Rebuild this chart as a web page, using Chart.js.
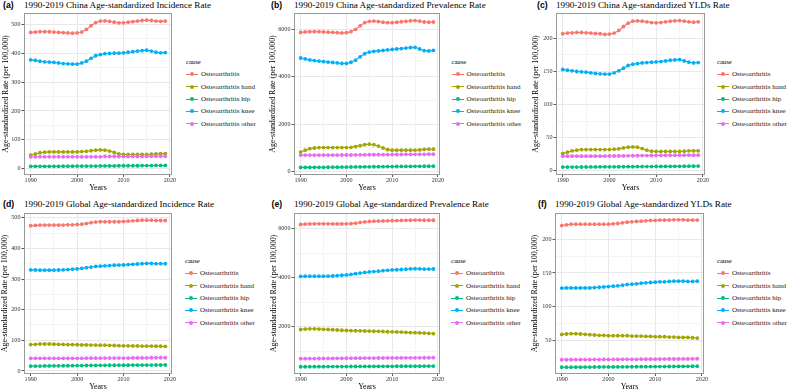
<!DOCTYPE html>
<html>
<head>
<meta charset="utf-8">
<script src="https://cdn.jsdelivr.net/npm/chart.js@4.4.1/dist/chart.umd.min.js"></script>
<style>
  body { margin: 0; background: #fff; width: 788px; height: 391px; overflow: hidden; position: relative; font-family: "Liberation Serif", "Times New Roman", serif; }
  .abs { position: absolute; white-space: nowrap; }
  .tag { font-family: "Liberation Sans", Arial, sans-serif; font-weight: bold; color: #000; height: 12px; line-height: 12px; }
  .title { color: #000; height: 12px; line-height: 12px; }
  .cause { color: #000; height: 10px; line-height: 10px; }
  .item { color: #1a1a1a; height: 10px; line-height: 10px; }
  .key { position: absolute; width: 12px; height: 10px; }
  .key .ln { position: absolute; left: 0; right: 0; top: 4.5px; height: 1px; }
  .key .dt { position: absolute; left: 4px; top: 3px; width: 4px; height: 4px; border-radius: 50%; }
</style>
</head>
<body>
<script>
// ---- data ----
const years = [1990,1991,1992,1993,1994,1995,1996,1997,1998,1999,2000,2001,2002,2003,2004,2005,2006,2007,2008,2009,2010,2011,2012,2013,2014,2015,2016,2017,2018,2019];
const causes = ["Osteoarthritis", "Osteoarthritis hand", "Osteoarthritis hip", "Osteoarthritis knee", "Osteoarthritis other"];
const colors = ["#F8766D", "#A3A500", "#00BF7D", "#00B0F6", "#E76BF3"];

// (a) China incidence
const chinaIncOA    = [472,473,474,474,474,473,472,471,470,469,470,473,482,495,506,511,512,510,507,505,505,507,509,511,513,514,513,511,510,511];
const chinaIncHand  = [47,51,55,57,58,58,58,58,58,58,58,59,60,62,64,65,64,61,56,51,49,49,49,49,49,49,50,51,52,52];
const chinaIncHip   = [8,8,8,8,8,8,8,8.5,8.5,8.5,9,9,9,9,9,9.5,9.5,9.5,9.5,10,10,10,10,10,10.5,10.5,10.5,11,11,11];
const chinaIncKnee  = [377,375,372,370,369,368,366,364,363,362,362,366,372,382,391,395,398,399,400,400,401,403,405,407,409,410,407,403,401,402];
const chinaIncOther = [41,41,41,41,41,41,41,41,41,41,41,41,41,41,41,41,42,42,42,42,42,42,42,42,42,43,43,43,43,43];

// (b) China prevalence
const chinaPrevOA    = [5870,5890,5900,5900,5900,5890,5880,5870,5860,5850,5860,5900,6000,6150,6280,6340,6350,6330,6300,6280,6280,6300,6320,6340,6360,6370,6350,6310,6300,6310];
const chinaPrevHand  = [820,900,960,990,1010,1010,1010,1010,1010,1010,1010,1020,1050,1090,1130,1150,1130,1070,990,920,900,900,900,900,900,900,910,930,940,940];
const chinaPrevHip   = [170,170,170,172,174,176,178,180,182,184,186,188,190,192,194,196,198,200,202,204,206,208,210,212,214,216,218,220,220,222];
const chinaPrevKnee  = [4790,4750,4710,4680,4660,4640,4620,4600,4580,4560,4560,4610,4700,4840,4970,5040,5070,5090,5110,5130,5150,5170,5190,5210,5230,5240,5170,5100,5090,5110];
const chinaPrevOther = [690,690,690,690,690,690,690,690,690,695,695,695,700,700,700,705,705,710,710,710,715,715,715,720,720,725,725,725,730,730];

// (c) China YLDs
const chinaYldOA    = [207,208,208.5,209,209,208.5,208,207.5,207,206,206.5,208,212,218,223,226,226.5,226,225,224,223.5,224,225,226,226.5,227,226,225,224.5,225];
const chinaYldHand  = [26,28,30,31,32,32,32,32,32,32,32,32.5,33,34.5,35.5,36,35.5,33.5,31,29.5,29,29,29,29,29,29,29.5,30,30,30];
const chinaYldHip   = [5.5,5.5,5.5,5.5,5.6,5.6,5.7,5.7,5.8,5.8,5.9,5.9,6,6,6.1,6.1,6.2,6.2,6.3,6.3,6.4,6.4,6.5,6.5,6.6,6.6,6.7,6.8,6.9,7];
const chinaYldKnee  = [153,152,151,150,149.5,149,148,147,146.5,146,146,148,151,155,159,161,162,163,163.5,164,164.5,165,166,167,167.5,168,166,164,163,163.5];
const chinaYldOther = [22,22,22,22,22,22,22,22,22,22,22.2,22.2,22.3,22.4,22.5,22.6,22.7,22.8,22.9,23,23,23.1,23.2,23.3,23.3,23.4,23.4,23.5,23.5,23.5];

// (d) Global incidence
const globalIncOA    = [474,475,476,476,476,476,476,476,477,477,478,479,481,484,486,487,487,487,487,487,488,489,490,491,492,492,492,491,491,491];
const globalIncHand  = [86,87,88,88,88,87.5,87,86.5,86,86,85.5,85,85,84.5,84.5,84,84,83.5,83,82.5,82,82,81.5,81.5,81,81,81,80.5,80.5,80];
const globalIncHip   = [16,16,16,16.2,16.4,16.6,16.8,17,17,17.2,17.4,17.6,17.8,18,18,18.2,18.4,18.5,18.6,18.7,18.8,18.9,19,19,19,19.1,19.2,19.3,19.4,19.5];
const globalIncKnee  = [330,329.5,329,329,329,329,329.5,330,331,332,333,335,337,339,341,342,343,344,345,345.5,346,347,348,349,350,351,351,350,350,350];
const globalIncOther = [41,41,41,41,41,41,41,41,41,41,41,41,41.5,41.5,41.5,41.5,42,42,42,42,42,42,42.5,42.5,42.5,42.5,43,43,43,43];

// (e) Global prevalence
const globalPrevOA    = [6180,6195,6200,6205,6205,6205,6205,6200,6200,6200,6205,6210,6230,6260,6280,6300,6310,6315,6320,6325,6330,6335,6340,6345,6350,6355,6355,6350,6350,6350];
const globalPrevHand  = [1890,1910,1920,1920,1910,1900,1890,1880,1870,1860,1850,1845,1840,1835,1830,1825,1820,1815,1810,1800,1795,1790,1785,1775,1765,1760,1755,1745,1735,1720];
const globalPrevHip   = [370,371,372,373,374,375,376,377,378,379,380,381,382,383,384,385,386,387,388,389,390,391,392,393,394,395,396,397,398,400];
const globalPrevKnee  = [4060,4065,4065,4065,4065,4065,4070,4075,4090,4105,4120,4140,4170,4195,4220,4240,4255,4270,4290,4305,4320,4330,4340,4350,4365,4370,4365,4355,4355,4360];
const globalPrevOther = [700,702,704,706,708,710,710,712,714,716,718,720,720,722,724,726,726,728,728,730,730,732,732,734,734,736,736,738,738,740];

// (f) Global YLDs
const globalYldOA    = [220,221,222,222,222,222,222,222,222,222,222,222.5,223,224,225,225.5,226,226.5,227,227.5,227.5,228,228,228,228.5,228.5,228.5,228,228,228];
const globalYldHand  = [59.4,60,60.5,60.5,60,59.5,59,58.5,58,58,57.5,57.5,57.5,57.5,57.5,57,57,57,56.5,56.5,56,56,56,55.5,55.5,55,55,55,54.5,54];
const globalYldHip   = [11,11,11,11.1,11.1,11.2,11.2,11.3,11.3,11.4,11.4,11.5,11.5,11.6,11.6,11.7,11.7,11.8,11.8,11.9,11.9,12,12,12.1,12.1,12.2,12.2,12.3,12.4,12.5];
const globalYldKnee  = [127.7,128,128,128,128,128,128,128.5,129,129.5,130,130.5,131,132,133,133.5,134,135,135.5,136,136.5,137,137,137.5,138,138,138,137.5,137.5,138];
const globalYldOther = [22,22,22,22.1,22.1,22.2,22.2,22.3,22.3,22.4,22.4,22.5,22.5,22.6,22.6,22.7,22.7,22.8,22.8,22.9,22.9,23,23,23.1,23.1,23.2,23.2,23.3,23.4,23.5];

// tick labels
const xTicks = [1990, 2000, 2010, 2020];
const incTicks = [0, 100, 200, 300, 400, 500];
const prevTicks = [0, 2000, 4000, 6000];
const yldTicks = [0, 50, 100, 150, 200];

// ---- layout ----
const panels = [
  { tag: "(a)", title: "1990-2019 China Age-standardized Incidence Rate", series: [chinaIncOA, chinaIncHand, chinaIncHip, chinaIncKnee, chinaIncOther], yTicks: incTicks, yMin: -22, yMax: 539,
    left: 1, yW: 23, plotW: 148, top: 13, plotH: 162, tagX: 3, legX: 186 },
  { tag: "(b)", title: "1990-2019 China Age-standardized Prevalence Rate", series: [chinaPrevOA, chinaPrevHand, chinaPrevHip, chinaPrevKnee, chinaPrevOther], yTicks: prevTicks, yMin: -150, yMax: 6690,
    left: 268, yW: 26, plotW: 146, top: 13, plotH: 162, tagX: 271, legX: 451.5 },
  { tag: "(c)", title: "1990-2019 China Age-standardized YLDs Rate", series: [chinaYldOA, chinaYldHand, chinaYldHip, chinaYldKnee, chinaYldOther], yTicks: yldTicks, yMin: -6.5, yMax: 238.4,
    left: 531, yW: 25, plotW: 149, top: 13, plotH: 162, tagX: 537, legX: 717 },
  { tag: "(d)", title: "1990-2019 Global Age-standardized Incidence Rate", series: [globalIncOA, globalIncHand, globalIncHip, globalIncKnee, globalIncOther], yTicks: incTicks, yMin: -10, yMax: 515.5,
    left: 0, yW: 24, plotW: 148, top: 213, plotH: 161, tagX: 3, legX: 185 },
  { tag: "(e)", title: "1990-2019 Global Age-standardized Prevalence Rate", series: [globalPrevOA, globalPrevHand, globalPrevHip, globalPrevKnee, globalPrevOther], yTicks: prevTicks, yMin: 75, yMax: 6645,
    left: 269, yW: 25, plotW: 146, top: 213, plotH: 161, tagX: 271.5, legX: 451 },
  { tag: "(f)", title: "1990-2019 Global Age-standardized YLDs Rate", series: [globalYldOA, globalYldHand, globalYldHip, globalYldKnee, globalYldOther], yTicks: yldTicks, yMin: 1, yMax: 238.5,
    left: 530, yW: 25, plotW: 149, top: 213, plotH: 161, tagX: 538, legX: 717 }
];

const padTop = 8, padRight = 12, xH = 18;
const serif = "'Liberation Serif', 'Times New Roman', serif";
const sans = "'Liberation Sans', Arial, sans-serif";
const yTitle = "Age-standardized Rate (per 100,000)";

// size fonts so the text widths match the reference
const mctx = document.createElement("canvas").getContext("2d");
function fitSize(text, family, target, weight) {
  mctx.font = (weight || "normal") + " 100px " + family;
  return 100 * target / mctx.measureText(text).width;
}
const titleSize = fitSize("1990-2019 China Age-standardized Incidence Rate", serif, 188);
const tagSize = fitSize("(a)", sans, 10.6, "bold");
const causeSize = fitSize("cause", serif, 14.7);
const itemSize = fitSize("Osteoarthritis other", serif, 55);
const tickSize = fitSize("1990", serif, 12.3);
const axisTitleSize = (fitSize("Years", serif, 16.6) + fitSize(yTitle, serif, 125)) / 2;

function addDiv(cls, x, y, text, size) {
  const d = document.createElement("div");
  d.className = "abs " + cls;
  d.style.left = x + "px";
  d.style.top = y + "px";
  if (size) d.style.fontSize = size + "px";
  if (text) d.textContent = text;
  document.body.appendChild(d);
  return d;
}

// major ticks plus the halfway minor ones, kept inside the axis range
function withMinor(major, min, max) {
  const out = [];
  for (let i = 0; i < major.length; i++) {
    out.push(major[i]);
    if (i < major.length - 1) out.push((major[i] + major[i + 1]) / 2);
  }
  return out.filter(v => v >= min && v <= max).map(v => ({ value: v }));
}

const panelBorder = {
  id: "panelBorder",
  afterDraw(chart) {
    const a = chart.chartArea, ctx = chart.ctx;
    ctx.save();
    ctx.strokeStyle = "#9a9a9a";
    ctx.lineWidth = 1;
    ctx.strokeRect(Math.round(a.left) + 0.5, Math.round(a.top) + 0.5, Math.round(a.right - a.left) - 1, Math.round(a.bottom - a.top) - 1);
    ctx.restore();
  }
};

panels.forEach(p => {
  const rowTitleY = p.top < 100 ? 4.8 : 203.7;
  addDiv("tag", p.tagX, rowTitleY - 6, p.tag, tagSize);
  addDiv("title", p.left + p.yW, rowTitleY - 6, p.title, titleSize);

  // legend
  const legTop = p.top < 100 ? 62 : 261;
  addDiv("cause", p.legX, legTop - 5, "cause", causeSize);
  causes.forEach((c, i) => {
    const cy = legTop + 12.4 + i * 12.35;
    const k = addDiv("", p.legX, cy - 5);
    k.className = "key";
    k.innerHTML = '<div class="ln" style="background:' + colors[i] + '"></div><div class="dt" style="background:' + colors[i] + '"></div>';
    addDiv("item", p.legX + 15, cy - 5, c, itemSize);
  });

  const w = p.yW + p.plotW + padRight;
  const h = padTop + p.plotH + xH;
  const box = document.createElement("div");
  box.style.cssText = "position:absolute;left:" + p.left + "px;top:" + (p.top - padTop) + "px;width:" + w + "px;height:" + h + "px;";
  const cv = document.createElement("canvas");
  cv.width = w; cv.height = h;
  box.appendChild(cv);
  document.body.appendChild(box);

  const xMajor = xTicks, yMajor = p.yTicks;
  new Chart(cv.getContext("2d"), {
    type: "line",
    data: {
      datasets: p.series.map((s, i) => ({
        label: causes[i],
        data: s.map((v, j) => ({ x: years[j], y: v })),
        borderColor: colors[i],
        backgroundColor: colors[i],
        borderWidth: 1.1,
        pointRadius: 1.9,
        pointBorderWidth: 0,
        tension: 0,
        order: -i
      }))
    },
    options: {
      responsive: false,
      animation: false,
      devicePixelRatio: 1,
      layout: { padding: { top: padTop, right: padRight, left: 0, bottom: 0 } },
      plugins: { legend: { display: false }, tooltip: { enabled: false } },
      scales: {
        x: {
          type: "linear", min: 1988.55, max: 2020.45,
          afterBuildTicks: s => { s.ticks = withMinor(xMajor, s.min, s.max); },
          afterFit: s => { s.height = xH; },
          border: { display: false },
          grid: {
            color: c => xMajor.includes(c.tick && c.tick.value) ? "#e8e8e8" : "#f4f4f4",
            tickColor: c => xMajor.includes(c.tick && c.tick.value) ? "#555" : "rgba(0,0,0,0)",
            tickLength: 2, lineWidth: 1
          },
          ticks: {
            padding: 0, color: "#333", maxRotation: 0, autoSkip: false,
            font: { family: serif, size: tickSize, lineHeight: 1.1 },
            callback: v => xMajor.includes(v) ? String(v) : ""
          },
          title: { display: true, text: "Years", color: "#000", padding: 0, font: { family: serif, size: axisTitleSize } }
        },
        y: {
          type: "linear", min: p.yMin, max: p.yMax,
          afterBuildTicks: s => { s.ticks = withMinor(yMajor, s.min, s.max); },
          afterFit: s => { s.width = p.yW; },
          border: { display: false },
          grid: {
            color: c => yMajor.includes(c.tick && c.tick.value) ? "#e8e8e8" : "#f4f4f4",
            tickColor: c => yMajor.includes(c.tick && c.tick.value) ? "#555" : "rgba(0,0,0,0)",
            tickLength: 2.5, lineWidth: 1
          },
          ticks: {
            padding: 1, color: "#333", autoSkip: false,
            font: { family: serif, size: tickSize },
            callback: v => yMajor.includes(v) ? String(v) : ""
          },
          title: { display: true, text: yTitle, color: "#000", padding: 0, font: { family: serif, size: axisTitleSize } }
        }
      }
    },
    plugins: [panelBorder]
  });
});
</script>
</body>
</html>
